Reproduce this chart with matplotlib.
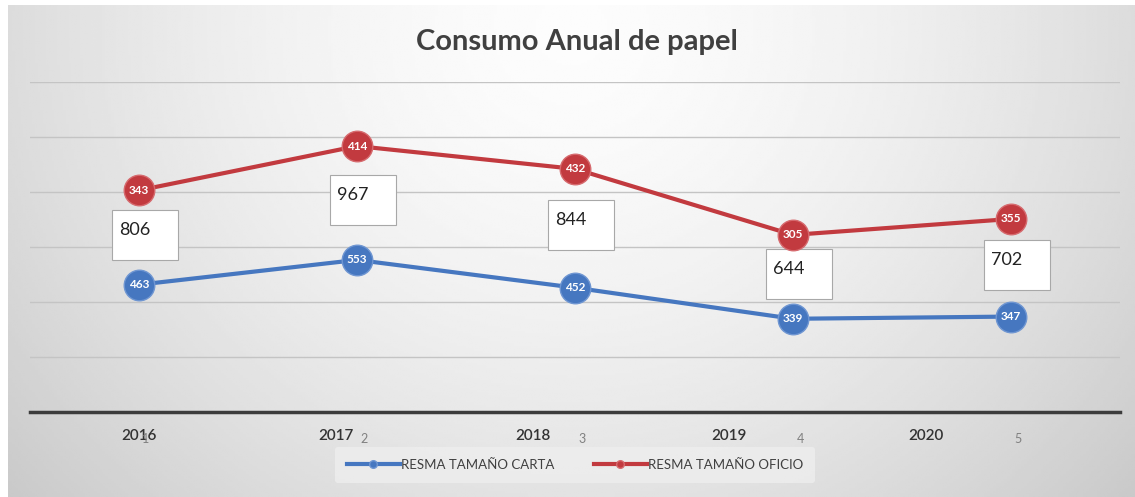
import numpy as np
import matplotlib
matplotlib.use("Agg")
import matplotlib.pyplot as plt
import matplotlib.transforms as mtransforms
from matplotlib.patches import Rectangle

plt.rcParams['font.family'] = ['Lato', 'DejaVu Sans']

# ---- data ----
positions = ["1", "2", "3", "4", "5"]
years = ["2016", "2017", "2018", "2019", "2020"]
carta = [463, 553, 452, 339, 347]
oficio = [343, 414, 432, 305, 355]
totals = ["806", "967", "844", "644", "702"]
series_names = ["RESMA TAMAÑO CARTA", "RESMA TAMAÑO OFICIO"]

BLUE = "#4677c0"
RED = "#c23a3f"

W, H = 1135, 497
fig = plt.figure(figsize=(W / 100, H / 100), dpi=100, facecolor="white")

# background gradient
bg = fig.add_axes([8 / W, 0, 1 - 8 / W, 1 - 5 / H])
bg.set_axis_off()
yy, xx = np.mgrid[0:1:200j, 0:1:400j]
d = np.sqrt(((xx - 0.5) / 0.62) ** 2 + ((yy - 0.05) / 1.35) ** 2)
g = np.clip(0.99 - 0.18 * d ** 1.6, 0.77, 0.99)
bg.imshow(g, cmap="gray", vmin=0, vmax=1, aspect="auto", extent=[0, 1, 1, 0],
          interpolation="bilinear")

ax = fig.add_axes([30 / W, 1 - 412 / H, (1120 - 30) / W, (412 - 82) / H])
ax.set_facecolor("none")
x = np.arange(len(carta))
cum = np.array(carta) + np.array(oficio)

ax.set_xlim(-0.5, 4.5)
ax.set_ylim(0, 1200)
ax.set_yticks(np.arange(200, 1201, 200))
ax.yaxis.grid(True, color="#c4c4c4", lw=1)
ax.set_axisbelow(True)
ax.tick_params(axis="y", left=False, labelleft=False)
for s in ["top", "right", "left"]:
    ax.spines[s].set_visible(False)
ax.spines["bottom"].set_color("#3c3c3c")
ax.spines["bottom"].set_linewidth(2.5)

ax.set_xticks(x)
ax.set_xticklabels(positions, color="#808080", fontsize=9)
ax.tick_params(axis="x", length=0, pad=15)
shift = mtransforms.ScaledTranslation(7 / 100, 0, fig.dpi_scale_trans)
for lab in ax.get_xticklabels():
    lab.set_transform(lab.get_transform() + shift)

ratio = 0.9025
sec = ax.secondary_xaxis("bottom", functions=(lambda v: v / ratio, lambda v: v * ratio))
sec.set_xticks(x)
sec.set_xticklabels(years, fontsize=11, color="#333333", fontweight="semibold")
sec.tick_params(length=0, pad=12)
sec.spines["bottom"].set_visible(False)

l1, = ax.plot(x, carta, color=BLUE, lw=3, marker="o", ms=22, mfc=BLUE,
              mec="#6f96d2", mew=1, zorder=3, label=series_names[0])
l2, = ax.plot(x, cum, color=RED, lw=3, marker="o", ms=22, mfc=RED,
              mec="#d66a6e", mew=1, zorder=3, label=series_names[1])

for xi, v, c in zip(x, carta, carta):
    ax.text(xi, v, str(c), color="white", fontsize=8.5, fontweight="bold",
            ha="center", va="center", zorder=4)
for xi, v, c in zip(x, cum, oficio):
    ax.text(xi, v, str(c), color="white", fontsize=8.5, fontweight="bold",
            ha="center", va="center", zorder=4)

# total boxes
for xi, lo, hi, t in zip(x, carta, cum, totals):
    ym = (lo + hi) / 2
    tr = fig.dpi_scale_trans + mtransforms.ScaledTranslation(xi, ym, ax.transData)
    ax.add_patch(Rectangle((-0.27, -0.22), 0.66, 0.50, transform=tr,
                           facecolor="white", edgecolor="#a8a8a8", lw=0.8, zorder=2))
    ax.text(-0.20, 0.08, t, transform=tr, fontsize=13, color="#222222",
            ha="left", va="center", zorder=2.5)

# title
fig.text(577 / W, 1 - 42 / H, "Consumo Anual de papel", fontsize=21,
         fontweight="bold", color="#404040", ha="center", va="center")

leg = fig.legend(handles=[l1, l2], loc="center", bbox_to_anchor=(575 / W, 1 - 465 / H),
                 ncol=2, frameon=True, fontsize=9.5, handlelength=4,
                 columnspacing=3.0, handletextpad=0.1, borderpad=0.9,
                 markerscale=0.25)
leg.get_frame().set_facecolor("#eeeeee")
leg.get_frame().set_edgecolor("none")
leg.get_frame().set_alpha(0.8)
for t in leg.get_texts():
    t.set_color("#404040")

fig.savefig("out.png", dpi=100, facecolor=fig.get_facecolor())
